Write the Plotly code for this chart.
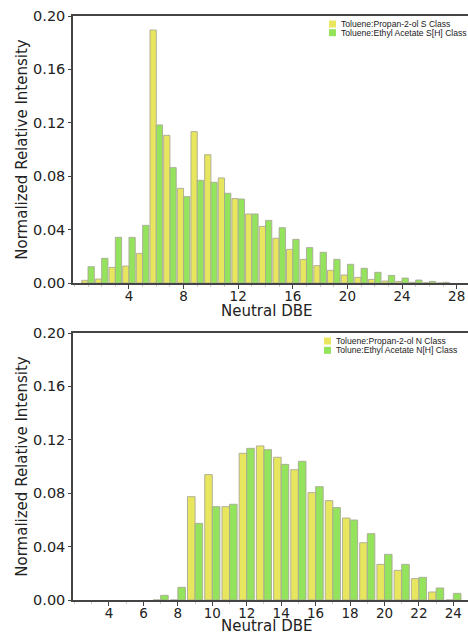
import plotly.graph_objects as go
from plotly.subplots import make_subplots

# ---- Data: top panel (S classes) ----
dbe_s = list(range(1, 28))
tol_ipa_s = [0.002, 0.003, 0.0117, 0.0127, 0.0222, 0.1895, 0.1106, 0.0709, 0.1134, 0.0961,
             0.0787, 0.0632, 0.0517, 0.0424, 0.0335, 0.0252, 0.0177, 0.0130, 0.0095, 0.0060,
             0.0042, 0.0027, 0.0015, 0.0012, 0.0005, 0.0002, 0.0]
tol_ea_sh = [0.0122, 0.0185, 0.0342, 0.0342, 0.0432, 0.1184, 0.0864, 0.0647, 0.0769, 0.0754,
             0.0672, 0.0629, 0.0517, 0.0469, 0.0414, 0.0327, 0.0265, 0.0230, 0.0177, 0.0140,
             0.0110, 0.0080, 0.0057, 0.0037, 0.0022, 0.0012, 0.0005]

# ---- Data: bottom panel (N classes) ----
dbe_n = list(range(7, 25))
tol_ipa_n = [0.0, 0.0, 0.0774, 0.0939, 0.0699, 0.1099, 0.1154, 0.1069, 0.0976, 0.0804,
             0.0744, 0.0614, 0.0429, 0.0267, 0.0222, 0.0160, 0.0060, 0.0]
tol_ea_nh = [0.0035, 0.0095, 0.0574, 0.0699, 0.0717, 0.1136, 0.1126, 0.1016, 0.1039, 0.0849,
             0.0692, 0.0599, 0.0497, 0.0342, 0.0267, 0.0170, 0.0090, 0.0050]

# ---- Tick labels ----
xticks_top = [4, 8, 12, 16, 20, 24, 28]
xticks_bot = [4, 6, 8, 10, 12, 14, 16, 18, 20, 22, 24]
yticks = [0.00, 0.04, 0.08, 0.12, 0.16, 0.20]

names_top = ["Toluene:Propan-2-ol S Class", "Toluene:Ethyl Acetate S[H] Class"]
names_bot = ["Toluene:Propan-2-ol N Class", "Tolune:Ethyl Acetate N[H] Class"]
x_title = "Neutral DBE"
y_title = "Normalized Relative Intensity"

YELLOW = "#e8e65e"
GREEN = "#93e35c"
EDGE = "rgba(170,170,150,0.9)"
AXIS = "#444444"
TXT = "#222222"
FONT = "DejaVu Sans"

W, H = 468, 634
ML, MR, MT, MB = 73, 0, 16, 34
ph = H - MT - MB
pw = W - ML - MR

def py(pix):
    return (H - MB - pix) / ph

def px(pix):
    return (pix - ML) / pw

fig = make_subplots(rows=2, cols=1)

w_top = 0.46
w_bot = 0.44
fig.add_trace(go.Bar(x=dbe_s, y=tol_ipa_s, width=w_top, offset=-w_top, name=names_top[0],
                     marker=dict(color=YELLOW, line=dict(color=EDGE, width=1))), row=1, col=1)
fig.add_trace(go.Bar(x=dbe_s, y=tol_ea_sh, width=w_top, offset=0, name=names_top[1],
                     marker=dict(color=GREEN, line=dict(color=EDGE, width=1))), row=1, col=1)
fig.add_trace(go.Bar(x=dbe_n, y=tol_ipa_n, width=w_bot, offset=-w_bot, name=names_bot[0],
                     marker=dict(color=YELLOW, line=dict(color=EDGE, width=1))), row=2, col=1)
fig.add_trace(go.Bar(x=dbe_n, y=tol_ea_nh, width=w_bot, offset=0, name=names_bot[1],
                     marker=dict(color=GREEN, line=dict(color=EDGE, width=1))), row=2, col=1)

xcommon = dict(showline=True, linecolor=AXIS, linewidth=1.5, mirror=True, showgrid=False,
               zeroline=False, ticks="outside", ticklen=4, tickcolor=AXIS,
               ticklabelstandoff=-4,
               tickfont=dict(family=FONT, size=13.5, color=TXT),
               minor=dict(ticks="outside", ticklen=2, tickcolor="#cccccc", dtick=1, tick0=0))
ycommon = dict(showline=True, linecolor=AXIS, linewidth=1.5, mirror=False, showgrid=False,
               zeroline=False, ticks="outside", ticklen=3, tickcolor=AXIS,
               range=[0, 0.2], tickvals=yticks, ticktext=[f"{v:.2f}" for v in yticks],
               tickfont=dict(family=FONT, size=14.5, color=TXT),
               title=dict(text=y_title, font=dict(family=FONT, size=15, color=TXT), standoff=2))

fig.update_xaxes(**xcommon, range=[-0.1, 28.83], tickvals=xticks_top, row=1, col=1)
fig.update_xaxes(**xcommon, range=[1.91, 24.85], tickvals=xticks_bot, row=2, col=1)
fig.update_yaxes(**ycommon, row=1, col=1)
fig.update_yaxes(**ycommon, row=2, col=1)

fig.update_layout(
    xaxis=dict(domain=[0, 1]), xaxis2=dict(domain=[0, 1]),
    yaxis=dict(domain=[py(283), 1.0]), yaxis2=dict(domain=[0, py(333)]),
    barmode="overlay", showlegend=False,
    width=W, height=H, margin=dict(l=ML, r=MR, t=MT, b=MB),
    paper_bgcolor="white", plot_bgcolor="white",
)

# x-axis titles placed as annotations (tight to tick labels like the reference)
for yy in (311, 626):
    fig.add_annotation(xref="paper", yref="paper", x=px(266), y=py(yy), text=x_title,
                       showarrow=False, xanchor="center", yanchor="middle",
                       font=dict(family=FONT, size=15, color=TXT))

# custom compact legends
def add_legend(names, colors, x_sq, x_txt, rows_y):
    for name, col, yy in zip(names, colors, rows_y):
        fig.add_shape(type="rect", xref="paper", yref="paper",
                      x0=px(x_sq), x1=px(x_sq + 7),
                      y0=py(yy + 3.5), y1=py(yy - 3.5),
                      fillcolor=col, line=dict(width=0))
        fig.add_annotation(xref="paper", yref="paper",
                           x=px(x_txt), y=py(yy),
                           text=name, showarrow=False, xanchor="left", yanchor="middle",
                           font=dict(family="Liberation Sans", size=8.6, color=TXT))

add_legend(names_top, [YELLOW, GREEN], 329, 339, [24, 32.7])
add_legend(names_bot, [YELLOW, GREEN], 324, 333.5, [341, 350.3])

fig.write_html("out.html")
